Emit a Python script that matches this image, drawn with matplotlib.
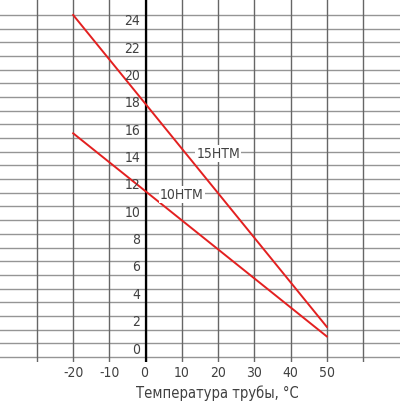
import matplotlib
matplotlib.use("Agg")
import matplotlib.pyplot as plt
from matplotlib import font_manager

cands = [f for f in font_manager.fontManager.ttflist
         if 'condensed' in str(f.stretch).lower() or 'narrow' in f.name.lower() or 'condensed' in f.name.lower()]
fam = cands[0].name if cands else "Liberation Sans"
stretch = cands[0].stretch if cands else 'normal'
plt.rcParams['font.family'] = [fam, 'DejaVu Sans']

# data
temps = [-20, 50]
htm15 = [25.0, 2.2]
htm10 = [16.35, 1.5]
x_ticks = [-20, -10, 0, 10, 20, 30, 40, 50]
x_grid = [-30, -20, -10, 0, 10, 20, 30, 40, 50, 60]
y_ticks = [0, 2, 4, 6, 8, 10, 12, 14, 16, 18, 20, 22, 24]
y_grid = list(range(0, 26))
labels = [("15HTM", 20, 15), ("10HTM", 10, 12)]
xlabel = "Температура трубы, °C"

fig = plt.figure(figsize=(4.0, 4.02), dpi=100)
ax = fig.add_axes([0, 0.097, 1, 0.903])
ax.set_xlim(-40.2, 70.2)
ax.set_ylim(-0.37, 26.17)
ax.axis('off')

tk = dict(fontstretch=stretch, color='#404040')

grid_c = '#959595'
for y in y_grid:
    ax.axhline(y, color=grid_c, lw=1.0, zorder=1)
for x in x_grid:
    ax.axvline(x, color='#666666', lw=1.0, zorder=1)
ax.axvline(0, color='black', lw=1.6, zorder=3)

ax.plot(temps, htm15, color='#e32020', lw=1.4, zorder=4)
ax.plot(temps, htm10, color='#e32020', lw=1.4, zorder=4)

for t, x, y in labels:
    ax.annotate(t, (x, y), xytext=(0, -1.0), textcoords='offset points',
                ha='center', va='center', fontsize=10, zorder=5,
                bbox=dict(facecolor='white', edgecolor='none', pad=1.0), **tk)

for y in y_ticks:
    ax.annotate(str(y), (0, y), xytext=(-4, 1), textcoords='offset points',
                ha='right', va='bottom', fontsize=10, zorder=5, **tk)

for x in x_ticks:
    ax.annotate(str(x), (x, -0.37), xytext=(-1 if x == 0 else 0, -2), textcoords='offset points',
                ha='center', va='top', fontsize=10, annotation_clip=False, **tk)

fig.text(217 / 400, 1 - 393 / 402, xlabel, ha='center', va='center', fontsize=10.5, **tk)

fig.savefig("out.png", dpi=100)
